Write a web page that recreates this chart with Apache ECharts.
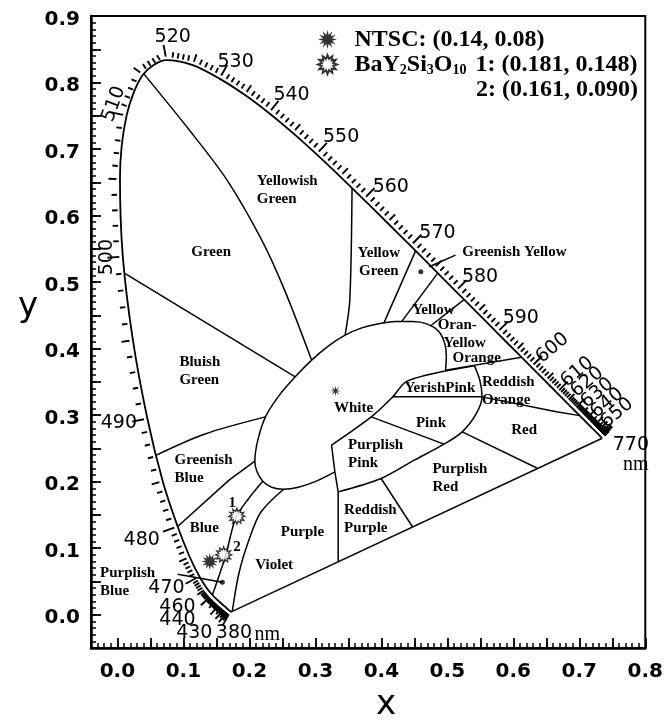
<!DOCTYPE html>
<html><head><meta charset="utf-8">
<script src="https://cdn.jsdelivr.net/npm/echarts@6/dist/echarts.min.js"></script>
<style>html,body{margin:0;padding:0;background:#fff}#c{width:666px;height:721px}</style>
</head><body><div id="c"></div>
<script>
// ---- spectral locus (CIE 1931, 5 nm steps) ----
const wavelengths = [380,385,390,395,400,405,410,415,420,425,430,435,440,445,450,455,460,465,470,475,480,485,490,495,500,505,510,515,520,525,530,535,540,545,550,555,560,565,570,575,580,585,590,595,600,605,610,615,620,625,630,635,640,645,650,655,660,665,670,675,680,685,690,695,700];
const locusX = [0.1741,0.1740,0.1738,0.1736,0.1733,0.1730,0.1726,0.1721,0.1714,0.1703,0.1689,0.1669,0.1644,0.1611,0.1566,0.1510,0.1440,0.1355,0.1241,0.1096,0.0913,0.0687,0.0454,0.0235,0.0082,0.0039,0.0139,0.0389,0.0743,0.1142,0.1547,0.1929,0.2296,0.2658,0.3016,0.3373,0.3731,0.4087,0.4441,0.4788,0.5125,0.5448,0.5752,0.6029,0.6270,0.6482,0.6658,0.6801,0.6915,0.7006,0.7079,0.7140,0.7190,0.7230,0.7260,0.7283,0.7300,0.7311,0.7320,0.7327,0.7334,0.7340,0.7344,0.7346,0.7347];
const locusY = [0.0050,0.0050,0.0049,0.0049,0.0048,0.0048,0.0048,0.0048,0.0051,0.0058,0.0069,0.0086,0.0109,0.0138,0.0177,0.0227,0.0297,0.0399,0.0578,0.0868,0.1327,0.2007,0.2950,0.4127,0.5384,0.6548,0.7502,0.8120,0.8338,0.8262,0.8059,0.7816,0.7543,0.7243,0.6923,0.6589,0.6245,0.5896,0.5547,0.5202,0.4866,0.4544,0.4242,0.3965,0.3725,0.3514,0.3340,0.3197,0.3083,0.2993,0.2920,0.2859,0.2809,0.2770,0.2740,0.2717,0.2700,0.2689,0.2680,0.2673,0.2666,0.2660,0.2656,0.2654,0.2653];

// ---- measured points ----
const ntscPoint = [0.14, 0.08];
const samplePoints = [[0.181, 0.148], [0.161, 0.090]];
const whitePoint = [0.3305, 0.3365];

// ---- colour-region boundaries (x, y) ----
const whiteBoundary = [[0.3296,0.2147],[0.3015,0.2008],[0.2744,0.1917],[0.2519,0.1887],[0.2338,0.1917],[0.2203,0.2008],[0.2113,0.2158],[0.2083,0.2308],[0.2128,0.2624],[0.2244,0.2974],[0.2444,0.3286],[0.2695,0.3576],[0.2944,0.3827],[0.3195,0.4038],[0.3451,0.4203],[0.3692,0.4308],[0.3922,0.4368],[0.4218,0.4406],[0.4474,0.4406],[0.4699,0.4368],[0.4865,0.4263],[0.4955,0.4098],[0.4985,0.3887],[0.4974,0.3677]];
const pinkBoundary = [[0.5411,0.3741],[0.5492,0.3526],[0.5526,0.3275],[0.5441,0.3026],[0.5226,0.2749],[0.4950,0.2564],[0.4499,0.2323],[0.3997,0.2048],[0.3346,0.1847]];
const orangeLine = [[0.4974,0.3677],[0.6125,0.3869]];
const whitePinkLine = [[0.3245,0.2549],[0.3847,0.2974],[0.4173,0.3275],[0.4398,0.3516],[0.5411,0.3741]];
const redOrangeLine = [[0.4173,0.3275],[0.5526,0.3275],[0.6654,0.3050],[0.7006,0.2993]];
const pinkLine = [[0.3847,0.2974],[0.4950,0.2564]];
const redLine = [[0.5226,0.2749],[0.6356,0.2205]];
const purplishRedLine = [[0.3997,0.2048],[0.4474,0.1319]];
const reddishPurpleLine = [[0.3245,0.2549],[0.3296,0.2147],[0.3346,0.1847],[0.3346,0.0795]];
const greenLine = [[0.0400,0.8130],[0.1090,0.7286],[0.1662,0.6534],[0.2188,0.5632],[0.2534,0.4880],[0.2944,0.3827]];
const bluishGreenLine = [[0.0112,0.5130],[0.2695,0.3576]];
const greenishBlueLine = [[0.0590,0.2400],[0.1316,0.2714],[0.2244,0.2974]];
const blueLine = [[0.0913,0.1327],[0.1692,0.2023],[0.2083,0.2308]];
const purplishBlueLine = [[0.2203,0.2008],[0.1992,0.1752],[0.1792,0.1451],[0.1642,0.0895],[0.1440,0.0297]];
const violetLine = [[0.2519,0.1887],[0.2173,0.1541],[0.1992,0.1120],[0.1842,0.0624],[0.1741,0.0050]];
const yellowGreenLine = [[0.3556,0.6410],[0.3522,0.4729],[0.3451,0.4203]];
const greenishYellowLine = [[0.4519,0.5469],[0.4038,0.4383]];
const yellowLine = [[0.4855,0.5135],[0.4308,0.4406]];
const orangeYellowLine = [[0.5254,0.4737],[0.4744,0.4340]];
const gyLeader = [[0.4725,0.5230],[0.5124,0.5406]];
const pbLeader = [[0.0914,0.0609],[0.1591,0.0489]];
const leaderDots = [[0.4598,0.5155],[0.1591,0.0489]];

// ---- axis tick values ----
const xTickLabels = [0,0.1,0.2,0.3,0.4,0.5,0.6,0.7,0.8];
const xMajorTicks = [0,0.05,0.1,0.15,0.2,0.25,0.3,0.35,0.4,0.45,0.5,0.55,0.6,0.65,0.7,0.75,0.8];
const yTickLabels = [0,0.1,0.2,0.3,0.4,0.5,0.6,0.7,0.8,0.9];

// ---- text annotations ----
const regionLabels = [
  {t:'Yellowish\nGreen', x:0.2113, y:0.6376, a:'left'},
  {t:'Green', x:0.1421, y:0.5451},
  {t:'Bluish\nGreen', x:0.0940, y:0.3665, a:'left'},
  {t:'Greenish\nBlue', x:0.0865, y:0.2188, a:'left'},
  {t:'Blue', x:0.1316, y:0.1296},
  {t:'Purplish\nBlue', x:-0.0263, y:0.0493, a:'left'},
  {t:'Purple', x:0.2805, y:0.1245},
  {t:'Violet', x:0.2376, y:0.0744},
  {t:'Yellow\nGreen', x:0.3962, y:0.5298},
  {t:'Greenish Yellow', x:0.5226, y:0.5456, a:'left'},
  {t:'Yellow', x:0.4789, y:0.4579},
  {t:'Oran-', x:0.5150, y:0.4353},
  {t:'Yellow', x:0.5263, y:0.4078},
  {t:'Orange', x:0.5444, y:0.3853},
  {t:'YerishPink', x:0.4887, y:0.3402},
  {t:'Reddish\nOrange', x:0.5526, y:0.3364, a:'left'},
  {t:'White', x:0.3579, y:0.3101},
  {t:'Pink', x:0.4752, y:0.2875},
  {t:'Red', x:0.6165, y:0.2774},
  {t:'Purplish\nPink', x:0.3496, y:0.2411, a:'left'},
  {t:'Purplish\nRed', x:0.4774, y:0.2060, a:'left'},
  {t:'Reddish\nPurple', x:0.3436, y:0.1433, a:'left'},
  {t:'1', x:0.1741, y:0.1672},
  {t:'2', x:0.1812, y:0.1020}
];
const wavelengthLabels = [
  {t:'520', x:0.0839, y:0.8689}, {t:'530', x:0.1792, y:0.8313}, {t:'540', x:0.2639, y:0.7812},
  {t:'550', x:0.3391, y:0.7185}, {t:'560', x:0.4143, y:0.6429}, {t:'570', x:0.4850, y:0.5737},
  {t:'580', x:0.5496, y:0.5075}, {t:'590', x:0.6113, y:0.4459},
  {t:'600', x:0.6594, y:0.4008, r:40}, {t:'610', x:0.6970, y:0.3647, r:40}, {t:'620', x:0.7120, y:0.3496, r:40},
  {t:'630', x:0.7271, y:0.3331, r:40}, {t:'640', x:0.7421, y:0.3180, r:40}, {t:'650', x:0.7571, y:0.3030, r:40},
  {t:'770', x:0.7782, y:0.2549},
  {t:'510', x:-0.0053, y:0.7677, r:70}, {t:'500', x:-0.0158, y:0.5376, r:90},
  {t:'490', x:0.0023, y:0.2880}, {t:'480', x:0.0368, y:0.1120}, {t:'470', x:0.0744, y:0.0398},
  {t:'460', x:0.0910, y:0.0113}, {t:'440', x:0.0910, y:-0.0083}, {t:'430', x:0.1165, y:-0.0278},
  {t:'380', x:0.1767, y:-0.0278}
];
const unitLabels = [{t:'nm', x:0.2271, y:-0.0300}, {t:'nm', x:0.7857, y:0.2248}];

function starPath(points, inner) {
  let d = '';
  for (let k = 0; k < points * 2; k++) {
    const r = k % 2 === 0 ? 50 : 50 * inner;
    const a = Math.PI * k / points - Math.PI / 2;
    d += (k === 0 ? 'M' : 'L') + (50 + r * Math.cos(a)).toFixed(2) + ' ' + (50 + r * Math.sin(a)).toFixed(2) + ' ';
  }
  return 'path://' + d + 'Z';
}
const filledStar = starPath(12, 0.5);
const openStar = starPath(12, 0.62);
const asterisk = starPath(8, 0.3);

const SERIF = '"Liberation Serif", "Times New Roman", serif';
const SANS = '"DejaVu Sans", sans-serif';

function textSeries(list, font, lineHeight) {
  return {
    type: 'custom', coordinateSystem: 'cartesian2d', silent: true, z: 6,
    data: list.map(d => [d.x, d.y]),
    renderItem: (params, api) => {
      const d = list[params.dataIndex];
      const p = api.coord([api.value(0), api.value(1)]);
      return {
        type: 'text', x: p[0], y: p[1], rotation: (d.r || 0) * Math.PI / 180,
        style: {text: d.t, align: d.a || 'center', verticalAlign: 'middle', font: font, fill: '#000', lineHeight: lineHeight}
      };
    }
  };
}

function lineSeries(data, smooth) {
  return {type: 'line', data: data, symbol: 'none', silent: true, smooth: smooth || false, z: 3,
    lineStyle: {color: '#000', width: 1.5}};
}

const locusData = wavelengths.map((w, i) => [locusX[i], locusY[i]]);
const n = wavelengths.length;
const purpleLine = [[locusX[0], locusY[0]], [locusX[n - 1], locusY[n - 1]]];

// wavelength ruler ticks (minor ticks split each 5 nm step of the table, like an axis minorTick)
const rulerSeries = {
  type: 'custom', coordinateSystem: 'cartesian2d', silent: true, z: 4,
  data: locusData,
  renderItem: (params, api) => {
    const i = params.dataIndex;
    const w = wavelengths[i];
    if (i < 1 || i >= n - 1 || w < 420 || w >= 690) return;
    const p0 = api.coord(locusData[i]);
    const p1 = api.coord(locusData[i + 1]);
    const pp = api.coord(locusData[i - 1]);
    const children = [];
    const split = 5;
    for (let k = 0; k < split; k++) {
      const t = k / split;
      const px = p0[0] + (p1[0] - p0[0]) * t, py = p0[1] + (p1[1] - p0[1]) * t;
      let tx, ty;
      if (k === 0) { tx = p1[0] - pp[0]; ty = p1[1] - pp[1]; } else { tx = p1[0] - p0[0]; ty = p1[1] - p0[1]; }
      const len = Math.hypot(tx, ty) || 1;
      const nx = ty / len, ny = -tx / len;
      const L = k === 0 ? (w % 10 === 0 ? 12 : 8) : 5.5;
      const g = 3.5;
      children.push({type: 'line', shape: {x1: px + nx * g, y1: py + ny * g, x2: px + nx * (g + L), y2: py + ny * (g + L)},
        style: {stroke: '#000', lineWidth: 1.9}});
    }
    return {type: 'group', children: children};
  }
};

const boundaries = [whiteBoundary, pinkBoundary, whitePinkLine, greenLine, greenishBlueLine, purplishBlueLine, violetLine, yellowGreenLine];
const straightLines = [orangeLine, redOrangeLine, pinkLine, redLine, purplishRedLine, reddishPurpleLine, bluishGreenLine, blueLine, greenishYellowLine, yellowLine, orangeYellowLine, gyLeader, pbLeader];

const axisLineStyle = {color: '#000', width: 2.5};
const option = {
  animation: false,
  backgroundColor: '#fff',
  grid: {left: 91, right: 17, top: 16, bottom: 73, show: true, borderColor: '#000', borderWidth: 2},
  xAxis: [
    {type: 'value', min: -0.04, max: 0.8, interval: 0.01, position: 'bottom',
      axisLine: {show: true, onZero: false, lineStyle: axisLineStyle},
      axisTick: {inside: true, length: 5, lineStyle: {color: '#000', width: 1.5}},
      axisLabel: {show: false}, splitLine: {show: false}},
    {type: 'value', min: -0.04, max: 0.8, position: 'bottom',
      axisLine: {show: false, onZero: false},
      axisTick: {inside: true, length: 10, customValues: xMajorTicks, lineStyle: {color: '#000', width: 1.8}},
      axisLabel: {customValues: xTickLabels, formatter: v => v.toFixed(1), margin: 14,
        fontFamily: SANS, fontWeight: 'bold', fontSize: 20, color: '#000'},
      splitLine: {show: false}}
  ],
  yAxis: [
    {type: 'value', min: -0.05, max: 0.9, interval: 0.01, position: 'left',
      axisLine: {show: true, onZero: false, lineStyle: axisLineStyle},
      axisTick: {inside: true, length: 5, lineStyle: {color: '#000', width: 1.5}},
      axisLabel: {show: false}, splitLine: {show: false}},
    {type: 'value', min: -0.05, max: 0.9, interval: 0.05, position: 'left',
      axisLine: {show: false, onZero: false},
      axisTick: {inside: true, length: 10, lineStyle: {color: '#000', width: 1.8}},
      axisLabel: {customValues: yTickLabels, formatter: v => '{v|' + v.toFixed(1) + '}', margin: 11,
        rich: {v: {fontFamily: SANS, fontWeight: 'bold', fontSize: 20, color: '#000', padding: [7, 0, 0, 0]}},
        fontFamily: SANS, fontWeight: 'bold', fontSize: 20, color: '#000'},
      splitLine: {show: false}}
  ],
  legend: {
    orient: 'vertical', left: 312, top: 22, itemWidth: 44, itemHeight: 19, itemGap: 0,
    selectedMode: false,
    data: [{name: 'NTSC', icon: filledStar}, {name: 'BaY2Si3O10', icon: openStar}],
    formatter: name => name === 'NTSC'
      ? '{b|NTSC: (' + ntscPoint[0].toFixed(2) + ', ' + ntscPoint[1].toFixed(2) + ')}'
      : '{b|BaY}{s|2}{b|Si}{s|3}{b|O}{s|10}{n|1: (' + samplePoints[0][0].toFixed(3) + ', ' + samplePoints[0][1].toFixed(3) + ')}',
    textStyle: {
      color: '#000', fontFamily: SERIF, fontWeight: 'bold', fontSize: 24, lineHeight: 25,
      rich: {
        b: {fontFamily: SERIF, fontWeight: 'bold', fontSize: 24, lineHeight: 25, color: '#000'},
        s: {fontFamily: SERIF, fontWeight: 'bold', fontSize: 14, lineHeight: 10, verticalAlign: 'bottom', color: '#000'},
        n: {fontFamily: SERIF, fontWeight: 'bold', fontSize: 24, lineHeight: 25, color: '#000', padding: [0, 0, 0, 9]}
      }
    }
  },
  graphic: [
    {type: 'text', x: 476, y: 90, style: {text: '2: (' + samplePoints[1][0].toFixed(3) + ', ' + samplePoints[1][1].toFixed(3) + ')',
      font: 'bold 24px ' + SERIF, fill: '#000', align: 'left', verticalAlign: 'middle'}},
    {type: 'text', x: 386, y: 705, style: {text: 'x', font: '34px ' + SANS, fill: '#000', align: 'center', verticalAlign: 'middle'}},
    {type: 'text', x: 28, y: 307, style: {text: 'y', font: '34px ' + SANS, fill: '#000', align: 'center', verticalAlign: 'middle'}}
  ],
  series: [
    {type: 'line', name: 'locus', data: locusData, symbol: 'none', silent: true, smooth: 0.3, z: 3,
      lineStyle: {color: '#000', width: 1.8}},
    lineSeries(purpleLine),
    ...boundaries.map(b => lineSeries(b, 0.3)),
    ...straightLines.map(b => lineSeries(b)),
    rulerSeries,
    {type: 'scatter', data: leaderDots, symbol: 'circle', symbolSize: 5, itemStyle: {color: '#000'}, silent: true, z: 5},
    {type: 'scatter', data: [whitePoint], symbol: asterisk, symbolSize: 11, itemStyle: {color: '#000'}, silent: true, z: 5},
    {type: 'scatter', name: 'NTSC', data: [ntscPoint], symbol: filledStar, symbolSize: 17, itemStyle: {color: '#000'}, z: 7},
    {type: 'scatter', name: 'BaY2Si3O10', data: samplePoints, symbol: openStar, symbolSize: 16,
      itemStyle: {color: '#fff', borderColor: '#000', borderWidth: 1.3}, z: 7},
    textSeries(regionLabels, 'bold 15px ' + SERIF, 18),
    textSeries(wavelengthLabels, '19px ' + SANS, 20),
    textSeries(unitLabels, '20px ' + SERIF, 20)
  ]
};
const chart = echarts.init(document.getElementById('c'), null, {renderer: 'canvas'});
chart.setOption(option);
</script></body></html>
